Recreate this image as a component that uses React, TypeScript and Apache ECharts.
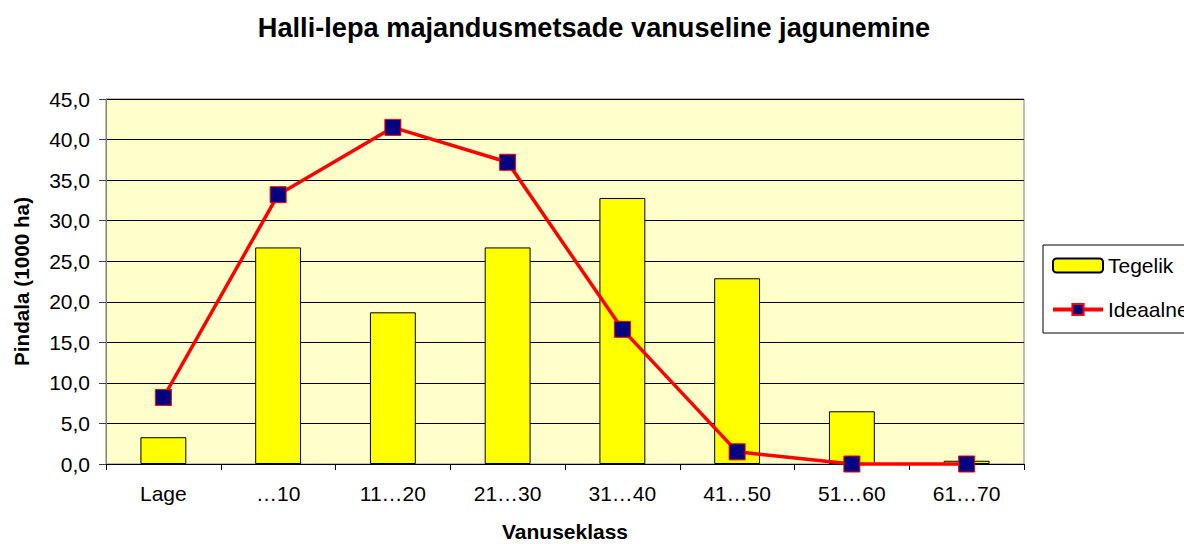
import React, { useEffect, useRef } from "react";
import * as echarts from "echarts";

const categories = ["Lage", "…10", "11…20", "21…30", "31…40", "41…50", "51…60", "61…70"];
const tegelik = [3.3, 26.7, 18.7, 26.7, 32.8, 22.9, 6.5, 0.4];
const ideaalne = [8.2, 33.2, 41.5, 37.2, 16.6, 1.5, 0.0, 0.0];
const titleText = "Halli-lepa majandusmetsade vanuseline jagunemine";
const yName = "Pindala (1000 ha)";
const xName = "Vanuseklass";

const FONT = "'Liberation Sans', Arial, Helvetica, sans-serif";

export default function App() {
  const ref = useRef<HTMLDivElement>(null);
  useEffect(() => {
    if (!ref.current) return;
    const chart = echarts.init(ref.current, undefined, { renderer: "svg" });
    chart.setOption({
      animation: false,
      backgroundColor: "#ffffff",
      title: {
        text: titleText,
        left: 589,
        textAlign: "center",
        top: 9,
        textStyle: { fontFamily: FONT, fontSize: 27.2, fontWeight: "bold", color: "#000" },
      },
      legend: {
        orient: "vertical",
        left: 1043,
        top: 245,
        padding: [10, 12, 13, 8],
        borderColor: "#000",
        borderWidth: 1,
        itemWidth: 50,
        itemHeight: 14,
        itemGap: 23,
        textStyle: { fontFamily: FONT, fontSize: 21, color: "#000", lineHeight: 14 },
        data: [
          { name: "Tegelik" },
          { name: "Ideaalne", lineStyle: { width: 4 } },
        ],
      },
      grid: {
        left: 106,
        top: 99,
        width: 918,
        height: 365,
        outerBoundsMode: "none",
        containLabel: false,
        show: true,
        backgroundColor: "#FFFFCC",
        borderColor: "#808080",
        borderWidth: 1,
      },
      xAxis: {
        type: "category",
        data: categories,
        boundaryGap: true,
        name: xName,
        nameLocation: "middle",
        nameGap: 57,
        nameTextStyle: { fontFamily: FONT, fontSize: 21, fontWeight: "bold", color: "#000" },
        axisLine: { lineStyle: { color: "#000", width: 1 } },
        axisTick: { show: true, interval: 0, length: 6, lineStyle: { color: "#000" } },
        axisLabel: { interval: 0, margin: 19, fontFamily: FONT, fontSize: 21, color: "#000" },
      },
      yAxis: {
        type: "value",
        min: 0,
        max: 45,
        interval: 5,
        name: yName,
        nameLocation: "middle",
        nameGap: 74,
        nameTextStyle: { fontFamily: FONT, fontSize: 20.7, fontWeight: "bold", color: "#000" },
        axisLine: { show: true, lineStyle: { color: "#808080", width: 1 } },
        axisTick: { show: true, length: 7, lineStyle: { color: "#404040" } },
        axisLabel: {
          margin: 16,
          fontFamily: FONT,
          fontSize: 21,
          color: "#000",
          formatter: (v: number) => v.toFixed(1).replace(".", ","),
        },
        splitLine: { show: true, lineStyle: { color: "#000", width: 1 } },
      },
      series: [
        {
          name: "Tegelik",
          type: "bar",
          data: tegelik,
          barWidth: "40%",
          itemStyle: { color: "#FFFF00", borderColor: "#000", borderWidth: 1 },
        },
        {
          name: "Ideaalne",
          type: "line",
          data: ideaalne,
          clip: false,
          symbol: "rect",
          symbolSize: 16,
          lineStyle: { color: "#FF0000", width: 3.5 },
          itemStyle: { color: "#000080", borderColor: "#FF0000", borderWidth: 1 },
          z: 5,
        },
      ],
    });
    return () => chart.dispose();
  }, []);
  return (
    <div
      ref={ref}
      style={{ position: "fixed", left: 0, top: 0, width: 1184, height: 544 }}
    />
  );
}
